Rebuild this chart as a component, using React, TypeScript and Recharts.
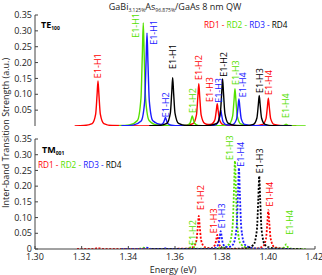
import React from 'react'
import { ComposedChart, Line, XAxis, YAxis, ReferenceDot } from 'recharts'

// energy (eV), strength (a.u.)
const teRd1: [number, number][] = [
  [1.317, 0], [1.321, 0.0014], [1.3245, 0.0077], [1.326, 0.0376], [1.3266, 0.098], [1.327, 0.142], [1.3274, 0.098], [1.328, 0.0376], [1.3295, 0.0077], [1.333, 0.0014], [1.345, 0.0002],
  [1.3642, 0.0013], [1.3677, 0.0072], [1.3692, 0.0352], [1.3698, 0.092], [1.3702, 0.133], [1.3706, 0.092], [1.3712, 0.0352], [1.3727, 0.008], [1.3742, 0.0046],
  [1.3756, 0.0054], [1.3771, 0.0196], [1.3777, 0.0483], [1.3781, 0.07], [1.3785, 0.0483], [1.3791, 0.0186], [1.3806, 0.0038], [1.3841, 0.0007],
  [1.394, 0.0009], [1.3975, 0.0048], [1.399, 0.0233], [1.3996, 0.0607], [1.4, 0.088], [1.4004, 0.0607], [1.401, 0.0233], [1.4025, 0.0048], [1.406, 0.0009], [1.412, 0],
]
const teRd2: [number, number][] = [
  [1.336, 0.001], [1.3404, 0.0032], [1.3439, 0.0176], [1.3454, 0.0861], [1.346, 0.224], [1.3464, 0.325], [1.3468, 0.224], [1.3474, 0.0861], [1.3489, 0.0176], [1.3524, 0.0032], [1.36, 0.0008],
  [1.3649, 0.0017], [1.3664, 0.0085], [1.367, 0.0221], [1.3674, 0.032], [1.3678, 0.0221], [1.3684, 0.0085], [1.3699, 0.0019], [1.3734, 0.0006],
  [1.3797, 0.0012], [1.3832, 0.0064], [1.3847, 0.0313], [1.3853, 0.0814], [1.3857, 0.118], [1.3861, 0.0814], [1.3867, 0.0313], [1.3882, 0.0064], [1.3917, 0.0012],
  [1.4036, 0.0002], [1.4066, 0.0016], [1.4072, 0.0041], [1.4076, 0.006], [1.408, 0.0041], [1.4086, 0.0016], [1.4116, 0.0002], [1.416, 0],
]
const teRd3: [number, number][] = [
  [1.337, 0.0008], [1.342, 0.0029], [1.3455, 0.0158], [1.347, 0.0776], [1.3476, 0.202], [1.348, 0.293], [1.3484, 0.202], [1.349, 0.0776], [1.3505, 0.0165], [1.354, 0.005],
  [1.3549, 0.0088], [1.3555, 0.019], [1.3559, 0.027], [1.3563, 0.019], [1.3569, 0.0078], [1.3584, 0.0024], [1.3619, 0.0007],
  [1.3736, 0.0005], [1.3771, 0.0027], [1.3786, 0.0133], [1.3792, 0.0345], [1.3796, 0.05], [1.38, 0.0345], [1.3806, 0.0133], [1.3821, 0.0038], [1.3835, 0.0032],
  [1.3849, 0.0052], [1.3864, 0.0225], [1.387, 0.0587], [1.3874, 0.085], [1.3878, 0.0587], [1.3884, 0.0225], [1.3899, 0.0046], [1.3934, 0.0009], [1.41, 0],
]
const teRd4: [number, number][] = [
  [1.349, 0.0006], [1.353, 0.0015], [1.3565, 0.0082], [1.358, 0.0403], [1.3586, 0.105], [1.359, 0.152], [1.3594, 0.105], [1.36, 0.0403], [1.3615, 0.0082], [1.365, 0.0015], [1.372, 0.0006],
  [1.3744, 0.0015], [1.3779, 0.008], [1.3794, 0.0392], [1.38, 0.102], [1.3804, 0.148], [1.3808, 0.102], [1.3814, 0.0392], [1.3829, 0.008], [1.3864, 0.0015],
  [1.3901, 0.001], [1.3936, 0.0052], [1.3951, 0.0254], [1.3957, 0.0662], [1.3961, 0.096], [1.3965, 0.0662], [1.3971, 0.0254], [1.3986, 0.0052], [1.4021, 0.001], [1.41, 0],
]

const tmRd1: [number, number][] = [
  [1.318, 0], [1.3255, 0.0005], [1.327, 0.003], [1.3285, 0.0005], [1.34, 0],
  [1.3642, 0.001], [1.3677, 0.0057], [1.3692, 0.0278], [1.3698, 0.0725], [1.3702, 0.105], [1.3706, 0.0725], [1.3712, 0.0278], [1.3727, 0.0062], [1.3742, 0.0035],
  [1.3756, 0.0034], [1.3771, 0.0127], [1.3777, 0.031], [1.3781, 0.045], [1.3785, 0.031], [1.3791, 0.0119], [1.3806, 0.0024], [1.3841, 0.0005],
  [1.394, 0.0012], [1.3975, 0.0067], [1.399, 0.0329], [1.3996, 0.0856], [1.4, 0.124], [1.4004, 0.0856], [1.401, 0.0329], [1.4025, 0.0067], [1.406, 0.0012], [1.412, 0],
]
const tmRd2: [number, number][] = [
  [1.337, 0], [1.345, 0.0008], [1.3464, 0.004], [1.348, 0.0008], [1.36, 0],
  [1.3649, 0.0008], [1.3664, 0.004], [1.367, 0.0104], [1.3674, 0.015], [1.3678, 0.0104], [1.3684, 0.004], [1.3699, 0.0009], [1.3734, 0.0011],
  [1.3797, 0.0028], [1.3832, 0.0151], [1.3847, 0.0742], [1.3853, 0.193], [1.3857, 0.28], [1.3861, 0.193], [1.3867, 0.0742], [1.3882, 0.0151], [1.3917, 0.0028], [1.398, 0.0007],
  [1.4061, 0.0008], [1.4066, 0.004], [1.4072, 0.0104], [1.4076, 0.015], [1.408, 0.0104], [1.4086, 0.004], [1.4101, 0.0008], [1.416, 0],
]
const tmRd3: [number, number][] = [
  [1.337, 0], [1.3465, 0.0006], [1.348, 0.004], [1.3495, 0.0006], [1.3545, 0.0004], [1.3559, 0.002], [1.3573, 0.0004], [1.37, 0.0002],
  [1.3736, 0.0006], [1.3771, 0.0031], [1.3786, 0.0151], [1.3792, 0.0393], [1.3796, 0.057], [1.38, 0.0393], [1.3806, 0.0151], [1.3821, 0.0064], [1.3835, 0.0072],
  [1.3849, 0.0146], [1.3864, 0.0684], [1.387, 0.178], [1.3874, 0.258], [1.3878, 0.178], [1.3884, 0.0684], [1.3899, 0.0139], [1.3934, 0.0026], [1.398, 0.0006], [1.41, 0],
]
const tmRd4: [number, number][] = [
  [1.35, 0], [1.3789, 0.0005], [1.3804, 0.004], [1.3819, 0.0005],
  [1.3901, 0.0023], [1.3936, 0.0125], [1.3951, 0.0615], [1.3957, 0.16], [1.3961, 0.232], [1.3965, 0.16], [1.3971, 0.0615], [1.3986, 0.0125], [1.4021, 0.0023], [1.408, 0.0005], [1.414, 0],
]

// peak labels: [energy, strength at text foot, text, series]
const teLabels: [number, number, string, number][] = [
  [1.3271, 0.151, 'E1-H1', 0], [1.3431, 0.278, 'E1-H1', 1], [1.3509, 0.256, 'E1-H1', 2], [1.3561, 0.028, 'E1-H2', 2],
  [1.3592, 0.18, 'E1-H1', 3], [1.3676, 0.041, 'E1-H2', 1], [1.3704, 0.145, 'E1-H2', 0], [1.3749, 0.076, 'E1-H3', 0],
  [1.3788, 0.073, 'E1-H3', 2], [1.3809, 0.155, 'E1-H2', 3], [1.3859, 0.129, 'E1-H3', 1], [1.3891, 0.091, 'E1-H4', 2],
  [1.3964, 0.104, 'E1-H3', 3], [1.4002, 0.098, 'E1-H4', 0], [1.4077, 0.025, 'E1-H4', 1],
]
const tmLabels: [number, number, string, number][] = [
  [1.3678, 0.013, 'E1-H2', 1], [1.3709, 0.124, 'E1-H2', 0], [1.3766, 0.05, 'E1-H3', 0], [1.3802, 0.066, 'E1-H3', 2],
  [1.3835, 0.283, 'E1-H3', 1], [1.3881, 0.262, 'E1-H4', 2], [1.3964, 0.241, 'E1-H3', 3], [1.4005, 0.135, 'E1-H4', 0],
  [1.4092, 0.045, 'E1-H4', 1],
]

const seriesNames = ['RD1', 'RD2', 'RD3', 'RD4']
const colors = ['#ff0000', '#55e000', '#1a1aff', '#000000']
const xTicks = [1.3, 1.32, 1.34, 1.36, 1.38, 1.4, 1.42]
const yTicks = [0, 0.05, 0.1, 0.15, 0.2, 0.25, 0.3, 0.35]

const font = '"Open Sans", sans-serif'
const axisColor = '#444'
const tickStyle = { fill: '#222', fontSize: 9, fontFamily: font }

const toRows = (pts: [number, number][]) => pts.map(([e, v]) => ({ e, v }))

function PeakLabel({ cx, cy, text, color }: { cx: number; cy: number; text: string; color: string }) {
  return (
    <text x={cx} y={cy} transform={`rotate(-90 ${cx} ${cy})`} dy="0.35em" fill={color}
      fontSize={9} fontFamily={font}>{text}</text>
  )
}

function Panel({ series, labels, dashed, height, top, bottom, showX }: {
  series: [number, number][][]; labels: [number, number, string, number][]; dashed: boolean
  height: number; top: number; bottom: number; showX: boolean
}) {
  return (
    <ComposedChart width={322} height={height} margin={{ top, right: 7, bottom, left: 0 }}>
      <XAxis dataKey="e" type="number" domain={[1.3, 1.42]} ticks={xTicks} allowDataOverflow
        height={showX ? 20 : 0} tickSize={-3} tickMargin={8} stroke={axisColor}
        tick={showX ? tickStyle : false} tickFormatter={(v: number) => v.toFixed(2)} />
      <XAxis xAxisId="top" orientation="top" type="number" domain={[1.3, 1.42]} ticks={xTicks}
        height={0} tickSize={-3} tick={false} stroke={axisColor} />
      <YAxis type="number" domain={[0, 0.35]} ticks={yTicks} allowDataOverflow width={35}
        tickSize={-3} tickMargin={6} stroke={axisColor} tick={tickStyle}
        tickFormatter={(v: number) => (v === 0 ? '0' : v.toFixed(2))} />
      <YAxis yAxisId="right" orientation="right" type="number" domain={[0, 0.35]} ticks={yTicks}
        width={0} tickSize={-3} tick={false} stroke={axisColor} />
      {series.map((pts, i) => (
        <Line key={seriesNames[i]} data={toRows(pts)} dataKey="v" type="monotone" stroke={colors[i]}
          strokeWidth={dashed ? 1.8 : 1.4} strokeDasharray={dashed ? '2 1.6' : undefined}
          dot={false} activeDot={false} isAnimationActive={false} />
      ))}
      {labels.map(([e, v, text, s], i) => (
        <ReferenceDot key={i} x={e} y={v} r={0} ifOverflow="visible"
          shape={(p: any) => <PeakLabel cx={p.cx} cy={p.cy} text={text} color={colors[s]} />} />
      ))}
    </ComposedChart>
  )
}

function Legend({ x, y }: { x: number; y: number }) {
  return (
    <text x={x} y={y} fontSize={8.2} fontFamily={font}>
      {seriesNames.map((n, i) => (
        <tspan key={n} fill={colors[i]}>{i < 3 ? `${n} - ` : n}</tspan>
      ))}
    </text>
  )
}

export default function App() {
  return (
    <div style={{ position: 'absolute', left: 0, top: 0, width: 322, height: 275, background: '#fff' }}>
      <div style={{ position: 'absolute', left: 0, top: 0 }}>
        <Panel series={[teRd1, teRd2, teRd3, teRd4]} labels={teLabels} dashed={false}
          height={128} top={15} bottom={2} showX={false} />
      </div>
      <div style={{ position: 'absolute', left: 0, top: 128 }}>
        <Panel series={[tmRd1, tmRd2, tmRd3, tmRd4]} labels={tmLabels} dashed
          height={147} top={11} bottom={6} showX />
      </div>
      <svg width={322} height={275} style={{ position: 'absolute', left: 0, top: 0, pointerEvents: 'none' }}>
        <text x={175} y={10} textAnchor="middle" fontSize={9} fontFamily={font} fill="#222">
          GaBi<tspan fontSize={5} dy={2}>3.125%</tspan><tspan dy={-2}>As</tspan>
          <tspan fontSize={5} dy={2}>96.875%</tspan><tspan dy={-2}>/GaAs 8 nm QW</tspan>
        </text>
        <text x={41} y={28} fontSize={9} fontWeight="bold" fontFamily={font}>
          TE<tspan fontSize={5} dy={2}>100</tspan>
        </text>
        <Legend x={204} y={28} />
        <text x={42} y={153} fontSize={9} fontWeight="bold" fontFamily={font}>
          TM<tspan fontSize={5} dy={2}>001</tspan>
        </text>
        <Legend x={38} y={168} />
        <text x={9} y={133} transform="rotate(-90 9 133)" textAnchor="middle" fontSize={9}
          fontFamily={font} fill="#222">Inter-band Transition Strength (a.u.)</text>
        <text x={173} y={273} textAnchor="middle" fontSize={9} fontFamily={font} fill="#222">Energy (eV)</text>
      </svg>
    </div>
  )
}
